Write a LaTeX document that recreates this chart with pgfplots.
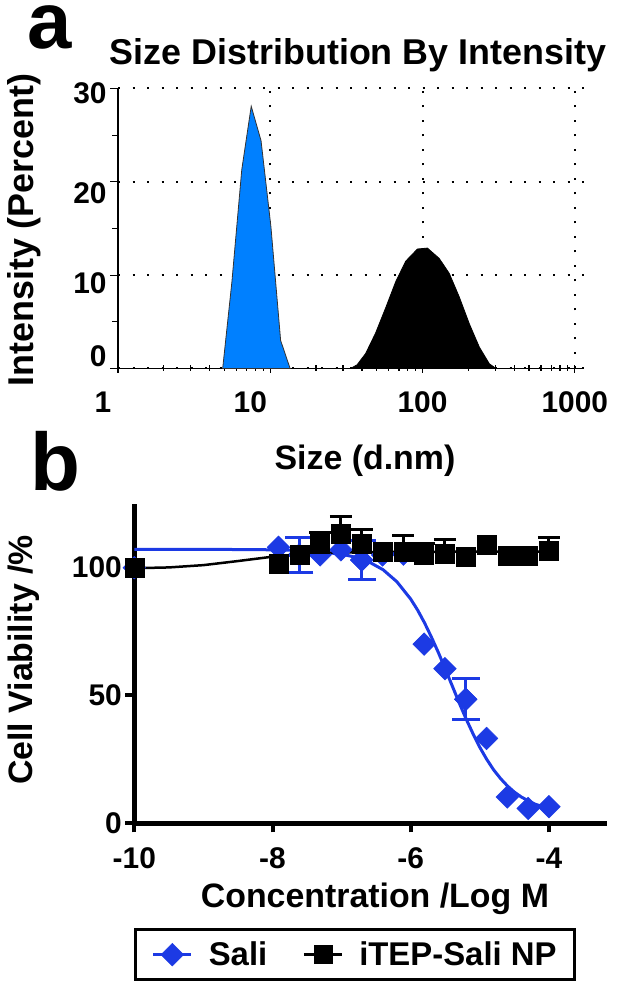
\documentclass[border=0pt]{standalone}
\usepackage{fontspec}
\setmainfont{Liberation Sans}
\usepackage{pgfplots}
\pgfplotsset{compat=1.18}
\definecolor{dlsblue}{RGB}{0,128,255}
\definecolor{sali}{RGB}{28,58,228}
\newcommand{\fs}[1]{\fontsize{#1}{#1}\selectfont\bfseries}
\begin{document}
\begin{tikzpicture}[x=1bp,y=1bp]
\path[use as bounding box] (0,0) rectangle (625,988);
\node[anchor=base west, inner sep=0, text height=43bp, text depth=0bp, font=\fs{80}] at (27,939) {a};
\node[anchor=base west, inner sep=0, text height=60bp, text depth=0bp, font=\fs{82}] at (30,497) {b};
% ---------------- panel a ----------------
\begin{axis}[
  at={(118bp,619.5bp)}, anchor=south west,
  scale only axis, width=466bp, height=280bp,
  xmode=log, xmin=1, xmax=1150, ymin=0, ymax=30,
  axis x line*=bottom, axis y line*=left,
  x axis line style={-}, y axis line style={-},
  axis line style={line width=1.5bp, black},
  xtick={1,10,100,1000}, xticklabels={1\hspace*{30bp},10\hspace*{40bp},100,1000},
  minor xtick={2,3,4,5,6,7,8,9,20,30,40,50,60,70,80,90,200,300,400,500,600,700,800,900},
  ytick={0,10,20,30},
  yticklabels={\raisebox{2.3bp}{0},\raisebox{-18.7bp}{10},\raisebox{-21.7bp}{20},\raisebox{-15.2bp}{30}},
  minor ytick={5,15,25},
  tick align=outside, major tick length=8bp, minor tick length=6bp,
  tick style={line width=1.2bp, black},
  xtick style={yshift=3.5bp},
  grid=major,
  major grid style={black, line width=2bp, dash pattern=on 2bp off 12.5bp},
  xticklabel style={font=\fs{30}, anchor=base, yshift=-36bp},
  yticklabel style={font=\fs{30}, anchor=base east},
  title={Size Distribution By Intensity},
  title style={at={(axis description cs:0.515,1.084)}, anchor=base, yshift=-6pt, font=\fs{36}},
  xlabel={Size (d.nm)},
  xlabel style={at={(axis description cs:0.53,-0.3625)}, anchor=base, font=\fs{34}},
  ylabel={Intensity (Percent)},
  ylabel style={at={(axis description cs:-0.2017,0.4946)}, anchor=center, font=\fs{36}},
]
\addplot[fill=dlsblue, draw=black!80, line width=0.8bp] coordinates {
 (4.87,0) (5.6,9.3) (6.5,21.3) (7.5,28.1) (8.7,24.4) (10.1,15.2) (11.7,3.0) (13.5,0)
} \closedcycle;
\addplot[fill=black, draw=black, line width=0.8bp] coordinates {
 (33.7,0) (37.2,0.4) (42.3,1.6) (49.2,3.8) (57.3,6.5) (66.7,9.3) (77.6,11.5)
 (92.6,12.8) (107.7,12.9) (128.6,11.8) (149.7,10.2) (174,7.7) (202.8,4.8)
 (236,2.3) (274.8,0.5) (304,0)
} \closedcycle;
\end{axis}
% ---------------- panel b ----------------
\begin{axis}[
  at={(134.3bp,164.7bp)}, anchor=south west,
  scale only axis, width=472.7bp, height=319.5bp,
  xmin=-10, xmax=-3.16, ymin=0, ymax=125,
  axis x line*=bottom, axis y line*=left,
  x axis line style={-}, y axis line style={-},
  axis line style={line width=4.5bp, black},
  xtick={-10,-8,-6,-4}, xticklabels={-10,-8,-6,-4},
  ytick={0,50,100}, yticklabels={0,50,100},
  tick align=outside, major tick length=9bp,
  tick style={line width=4bp, black},
  clip=false,
  xticklabel style={font=\fs{30}, anchor=base, yshift=-36bp},
  yticklabel style={font=\fs{30}},
  xlabel={Concentration /Log M},
  xlabel style={at={(axis description cs:0.509,-0.265)}, anchor=base, font=\fs{34}},
  ylabel={Cell Viability /\%},
  ylabel style={at={(axis description cs:-0.2333,0.511)}, anchor=center, font=\fs{34}},
  legend style={at={(axis description cs:0,-0.3277)}, anchor=north west,
    draw=black, line width=3bp, font=\fs{33}, inner xsep=16bp, inner ysep=10.5bp,
    /tikz/every odd column/.append style={column sep=14bp},
    /tikz/every even column/.append style={column sep=33bp}},
  legend columns=2,
  legend cell align=left,
  legend image code/.code={\draw[mark repeat=2,mark phase=2,#1] plot coordinates {(0bp,0bp) (19bp,0bp) (38bp,0bp)};},
]
\addlegendimage{color=sali, line width=3bp, mark=square*, mark size=8bp, mark options={rotate=45, solid, fill=sali, line width=0.5bp}}
\addlegendentry{Sali}
\addlegendimage{color=black, line width=3bp, mark=square*, mark size=9bp, mark options={solid, fill=black, line width=0.5bp}}
\addlegendentry{iTEP-Sali NP}
% Sali fitted curve
\addplot[forget plot, color=sali, line width=3bp] coordinates {
 (-10,107.2) (-9,107.2) (-8,107.0) (-7.5,106.7) (-7.0,105.3) (-6.8,104.1) (-6.6,102.2)
 (-6.4,99.2) (-6.2,94.5) (-6.0,87.7) (-5.9,83.4) (-5.8,78.4) (-5.7,72.8) (-5.6,66.8)
 (-5.5,60.4) (-5.4,53.8) (-5.3,47.2) (-5.2,40.9) (-5.1,35.1) (-5.0,29.7) (-4.9,25.0)
 (-4.8,20.9) (-4.7,17.5) (-4.6,14.6) (-4.5,12.2) (-4.4,10.3) (-4.3,8.8) (-4.2,7.5)
 (-4.1,6.6) (-4.0,5.8)
};
% Sali error bars
\addplot[forget plot, color=sali, only marks, mark=square*, mark size=8bp,
  mark options={rotate=45, fill=sali, line width=0.5bp},
  error bars/.cd, y dir=both, y explicit,
  error bar style={line width=3bp, color=sali},
  error mark options={rotate=90, line width=3bp, mark size=14bp, color=sali}]
 coordinates {
 (-7.612,105) +- (0,7)
 (-6.709,103) +- (0,7.5)
 (-5.204,48.5) +- (0,8)
};
% Sali points
\addplot[forget plot, color=sali, only marks, mark=square*, mark size=8bp,
  mark options={rotate=45, fill=sali, line width=0.5bp}] coordinates {
 (-10,100) (-7.913,108) (-7.612,105) (-7.311,105) (-7.010,107) (-6.709,103)
 (-6.408,105) (-6.107,105.3) (-5.806,70.1) (-5.505,60.5) (-5.204,48.5)
 (-4.903,33.2) (-4.602,10.3) (-4.301,5.8) (-4.0,6.5)
};
% iTEP-Sali NP curve
\addplot[forget plot, color=black, line width=2.5bp] coordinates {
 (-10,99.8) (-9.5,100.1) (-9,101.0) (-8.5,102.6) (-8,104.3) (-7.5,105.5)
 (-7,106.0) (-6,106.2) (-5,106.3) (-4,106.3)
};
% iTEP-Sali NP error bars (upper only)
\addplot[forget plot, color=black, only marks, mark=square*, mark size=9.5bp,
  mark options={fill=black, line width=0.5bp},
  error bars/.cd, y dir=plus, y explicit,
  error bar style={line width=3bp, color=black},
  error mark options={rotate=90, line width=3bp, mark size=11bp, color=black}]
 coordinates {
 (-7.311,109.5) +- (0,4.2)
 (-7.010,113.4) +- (0,6.6)
 (-6.709,109.5) +- (0,5.5)
 (-6.107,106.3) +- (0,6.1)
 (-5.806,105.0) +- (0,4.5)
 (-5.505,105.6) +- (0,5.5)
 (-4.0,106.7) +- (0,5.2)
};
% iTEP-Sali NP points
\addplot[forget plot, color=black, only marks, mark=square*, mark size=9.5bp,
  mark options={fill=black, line width=0.5bp}] coordinates {
 (-10,100) (-7.913,101.7) (-7.612,105.0) (-7.311,109.5) (-7.010,113.4) (-6.709,109.5)
 (-6.408,106.3) (-6.107,106.3) (-5.806,105.0) (-5.505,105.6) (-5.204,104.3)
 (-4.903,108.9) (-4.602,104.8) (-4.301,104.8) (-4.0,106.7)
};
\end{axis}
\end{tikzpicture}
\end{document}
